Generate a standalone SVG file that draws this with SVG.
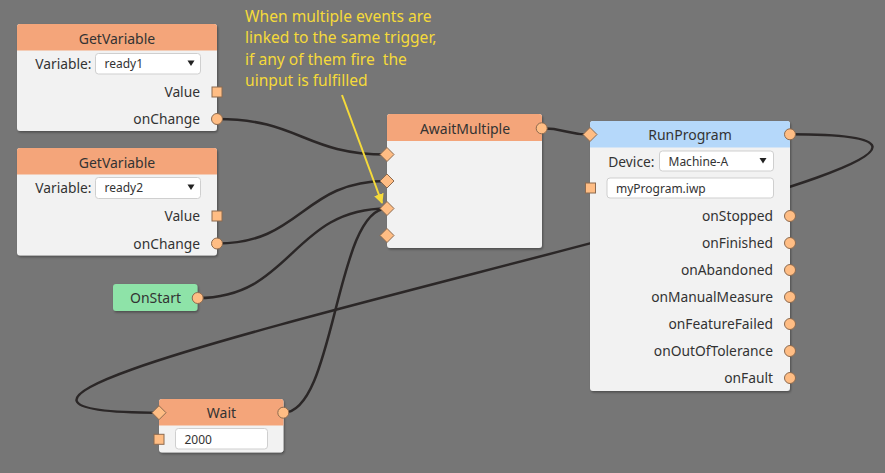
<svg xmlns="http://www.w3.org/2000/svg" width="885" height="473" viewBox="0 0 885 473">
<style>
  .body{fill:#F2F2F2}
  .hdr-o{fill:#F4A57A}
  .hdr-b{fill:#B5D8FA}
  .hdr-g{fill:#8EE3A8}
  .title{font-family:"Noto Sans",sans-serif;font-size:14px;fill:#333;text-anchor:middle;dominant-baseline:central}
  .lbl{font-family:"Noto Sans",sans-serif;font-size:13.8px;fill:#333;dominant-baseline:central}
  .r{text-anchor:end}
  .field{fill:#FFFFFF;stroke:#CFCFCF;stroke-width:1}
  .ftxt{font-family:"Noto Sans",sans-serif;font-size:12px;fill:#333;dominant-baseline:central}
  .tri{fill:#222}
  .port{fill:#FFBD84;stroke:#8C6A4F;stroke-width:1}
  .wire{fill:none;stroke:#2B2727;stroke-width:2.5}
  .note{font-family:"Noto Sans",sans-serif;font-size:15.6px;fill:#F5DA3A}
</style>
<defs>
  <filter id="sh" x="-10%" y="-10%" width="130%" height="130%">
    <feDropShadow dx="1" dy="1.5" stdDeviation="1.2" flood-color="#000" flood-opacity="0.35"/>
  </filter>
  <marker id="ah" viewBox="0 0 10 10" refX="9" refY="5" markerWidth="10" markerHeight="10" markerUnits="userSpaceOnUse" orient="auto">
    <path d="M0,0 L10,5 L0,10 Z" fill="#F5DA3A"/>
  </marker>
</defs>
<rect width="885" height="473" fill="#767676"/>

<g id="connectors">
  <path class="wire" d="M217,119 C300,119 304,154.5 387,154.5"/>
  <path class="wire" d="M217,243.5 C302,243.5 302,181 387,181"/>
  <path class="wire" d="M197.7,298 C292,298 292,208.5 387,208.5"/>
  <path class="wire" d="M283.3,412.7 C335.3,412.7 335.3,208.5 387,208.5"/>
  <path class="wire" d="M541.7,128.3 C566,128.3 566,134.5 590,134.5"/>
  <path class="wire" d="M790,134.3 C1235,134.3 -286,412.7 159,412.7"/>
</g>

<g id="getvariable1">
  <rect class="body" x="17" y="24" width="200" height="107" rx="3" filter="url(#sh)"/>
  <path class="hdr-o" d="M17,50.5 L17,27 Q17,24 20,24 L214,24 Q217,24 217,27 L217,50.5 Z"/>
  <text class="title" x="117" y="38">GetVariable</text>
  <text class="lbl r" x="91.5" y="63.5">Variable:</text>
  <rect class="field" x="95.5" y="53.5" width="105" height="20.5" rx="3"/>
  <text class="ftxt" x="104.5" y="63.5">ready1</text>
  <polygon class="tri" points="187.5,60.5 194.5,60.5 191,66"/>
  <text class="lbl r" x="200" y="91">Value</text>
  <rect class="port" x="212" y="87" width="10" height="10"/>
  <text class="lbl r" x="200" y="118.5">onChange</text>
  <circle class="port" cx="217" cy="119" r="5.5"/>
</g>

<g id="getvariable2">
  <rect class="body" x="17" y="148" width="200" height="107.5" rx="3" filter="url(#sh)"/>
  <path class="hdr-o" d="M17,174.5 L17,151 Q17,148 20,148 L214,148 Q217,148 217,151 L217,174.5 Z"/>
  <text class="title" x="117" y="162">GetVariable</text>
  <text class="lbl r" x="91.5" y="187.5">Variable:</text>
  <rect class="field" x="95.5" y="177.5" width="105" height="21" rx="3"/>
  <text class="ftxt" x="104.5" y="187.5">ready2</text>
  <polygon class="tri" points="187.5,184.5 194.5,184.5 191,190"/>
  <text class="lbl r" x="200" y="215">Value</text>
  <rect class="port" x="212" y="211" width="10" height="10"/>
  <text class="lbl r" x="200" y="243">onChange</text>
  <circle class="port" cx="217" cy="243.5" r="5.5"/>
</g>

<g id="awaitmultiple">
  <rect class="body" x="387" y="114" width="155" height="134" rx="3" filter="url(#sh)"/>
  <path class="hdr-o" d="M387,141 L387,117 Q387,114 390,114 L539,114 Q542,114 542,117 L542,141 Z"/>
  <text class="title" x="465" y="128">AwaitMultiple</text>
  <circle class="port" cx="541.7" cy="128.3" r="5.5"/>
  <polygon class="port" points="387,147.5 394,154.5 387,161.5 380,154.5"/>
  <polygon class="port" points="387,174 394,181 387,188 380,181"/>
  <polygon class="port" points="387,201.5 394,208.5 387,215.5 380,208.5"/>
  <polygon class="port" points="387,228.5 394,235.5 387,242.5 380,235.5"/>
</g>

<g id="runprogram">
  <rect class="body" x="590" y="121" width="200" height="270" rx="3" filter="url(#sh)"/>
  <path class="hdr-b" d="M590,147.5 L590,124 Q590,121 593,121 L787,121 Q790,121 790,124 L790,147.5 Z"/>
  <text class="title" x="690" y="134.5">RunProgram</text>
  <polygon class="port" points="590,127.5 597,134.5 590,141.5 583,134.5"/>
  <circle class="port" cx="790" cy="134.3" r="5.5"/>
  <text class="lbl r" x="654.5" y="161">Device:</text>
  <rect class="field" x="659.5" y="151" width="114" height="20" rx="3"/>
  <text class="ftxt" x="668.5" y="161">Machine-A</text>
  <polygon class="tri" points="759.5,158 766.5,158 763,163.5"/>
  <rect class="port" x="585.5" y="183" width="10" height="10"/>
  <rect class="field" x="607" y="178" width="166.5" height="20" rx="3"/>
  <text class="ftxt" x="616" y="188">myProgram.iwp</text>
  <text class="lbl r" x="773" y="215.5">onStopped</text>
  <circle class="port" cx="790" cy="216" r="5.5"/>
  <text class="lbl r" x="773" y="242.5">onFinished</text>
  <circle class="port" cx="790" cy="243" r="5.5"/>
  <text class="lbl r" x="773" y="269.5">onAbandoned</text>
  <circle class="port" cx="790" cy="270" r="5.5"/>
  <text class="lbl r" x="773" y="296.5">onManualMeasure</text>
  <circle class="port" cx="790" cy="297" r="5.5"/>
  <text class="lbl r" x="773" y="323.5">onFeatureFailed</text>
  <circle class="port" cx="790" cy="324" r="5.5"/>
  <text class="lbl r" x="773" y="350.5">onOutOfTolerance</text>
  <circle class="port" cx="790" cy="351" r="5.5"/>
  <text class="lbl r" x="773" y="377.5">onFault</text>
  <circle class="port" cx="790" cy="378" r="5.5"/>
</g>

<g id="onstart">
  <rect class="hdr-g" x="113" y="284" width="84.5" height="27" rx="3" filter="url(#sh)"/>
  <text class="title" x="155.5" y="297.5">OnStart</text>
  <circle class="port" cx="197.7" cy="298" r="5.5"/>
</g>

<g id="wait">
  <rect class="body" x="159" y="399" width="124.5" height="53.5" rx="3" filter="url(#sh)"/>
  <path class="hdr-o" d="M159,425.5 L159,402 Q159,399 162,399 L280.5,399 Q283.5,399 283.5,402 L283.5,425.5 Z"/>
  <text class="title" x="221.5" y="412.5">Wait</text>
  <polygon class="port" points="159,405.7 166,412.7 159,419.7 152,412.7"/>
  <circle class="port" cx="283.3" cy="412.7" r="5.5"/>
  <rect class="port" x="154" y="434.3" width="10" height="10"/>
  <rect class="field" x="175.5" y="428.5" width="92" height="20.5" rx="3"/>
  <text class="ftxt" x="184.5" y="439">2000</text>
</g>

<g id="annotation">
  <text class="note" x="245" y="21.5">When multiple events are</text>
  <text class="note" x="245" y="43">linked to the same trigger,</text>
  <text class="note" x="245" y="64.5" xml:space="preserve">if any of them fire  the</text>
  <text class="note" x="245" y="86">uinput is fulfilled</text>
  <line x1="342" y1="95" x2="382" y2="203" stroke="#F5DA3A" stroke-width="2" marker-end="url(#ah)"/>
</g>
</svg>
